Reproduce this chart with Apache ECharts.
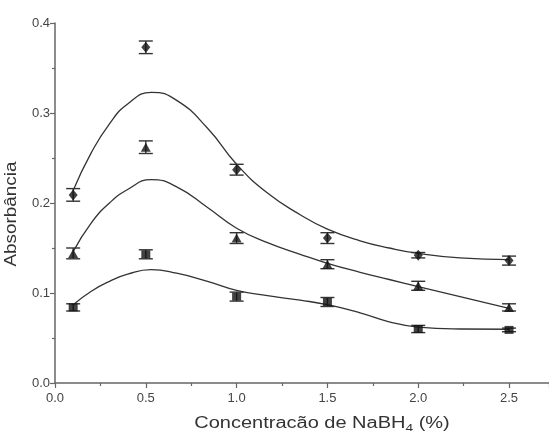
<!DOCTYPE html>
<html>
<head>
<meta charset="utf-8">
<script src="https://cdn.jsdelivr.net/npm/echarts@6/dist/echarts.min.js"></script>
<style>
  html, body { margin: 0; padding: 0; background: #fff; }
  #chart { width: 549px; height: 431px; }
</style>
</head>
<body>
<div id="chart"></div>
<script>
// concentracao de NaBH4 (%)
var conc = [0.1, 0.5, 1.0, 1.5, 2.0, 2.5];

// pontos medidos (losango, triangulo, quadrado) e erro
var diamondVals = [0.209, 0.373, 0.237, 0.161, 0.142, 0.136];
var diamondErr = [0.007, 0.007, 0.006, 0.006, 0.003, 0.005];
var triangleVals = [0.144, 0.262, 0.161, 0.132, 0.108, 0.084];
var triangleErr = [0.006, 0.007, 0.006, 0.005, 0.005, 0.004];
var squareVals = [0.084, 0.143, 0.096, 0.090, 0.060, 0.059];
var squareErr = [0.004, 0.005, 0.005, 0.005, 0.004, 0.002];

// curvas ajustadas
var fitX = [0.1, 0.2, 0.3, 0.4, 0.53, 0.67, 0.84, 1.0, 1.17, 1.35, 1.5, 1.68, 1.84, 2.0, 2.23, 2.5];
var fitTop = [0.214, 0.256, 0.288, 0.310, 0.323, 0.314, 0.283, 0.243, 0.211, 0.187, 0.171, 0.158, 0.150, 0.144, 0.139, 0.137];
var fitMid = [0.146, 0.178, 0.200, 0.215, 0.226, 0.218, 0.195, 0.172, 0.156, 0.143, 0.133, 0.123, 0.115, 0.107, 0.096, 0.083];
var fitLow = [0.087, 0.102, 0.113, 0.121, 0.126, 0.122, 0.113, 0.103, 0.097, 0.092, 0.087, 0.078, 0.068, 0.062, 0.060, 0.0597];

var yTicks = ['0.0', '0.1', '0.2', '0.3', '0.4'];

var chart = echarts.init(document.getElementById('chart'));

function pairs(xs, ys) {
    return xs.map(function (x, i) { return [x, ys[i]]; });
}

function errData(vals, errs) {
    return conc.map(function (x, i) { return [x, vals[i] - errs[i], vals[i] + errs[i]]; });
}

function renderErr(params, api) {
    var top = api.coord([api.value(0), api.value(2)]);
    var bot = api.coord([api.value(0), api.value(1)]);
    var w = 7;
    var st = { stroke: '#333', lineWidth: 1.4 };
    return {
        type: 'group',
        children: [
            { type: 'line', shape: { x1: top[0], y1: top[1], x2: bot[0], y2: bot[1] }, style: st },
            { type: 'line', shape: { x1: top[0] - w, y1: top[1], x2: top[0] + w, y2: top[1] }, style: st },
            { type: 'line', shape: { x1: bot[0] - w, y1: bot[1], x2: bot[0] + w, y2: bot[1] }, style: st }
        ]
    };
}

function fitSeries(data) {
    return {
        type: 'line',
        data: data,
        smooth: 0.5,
        showSymbol: false,
        lineStyle: { color: '#333', width: 1.3 },
        z: 2,
        silent: true
    };
}

function errSeries(data) {
    return { type: 'custom', renderItem: renderErr, data: data, z: 3, silent: true };
}

function markSeries(data, symbol, size) {
    return {
        type: 'scatter',
        data: data,
        symbol: symbol,
        symbolSize: size,
        itemStyle: { color: '#111' },
        z: 4,
        silent: true
    };
}

var axisColor = '#666';
var labelStyle = { color: '#444', fontSize: 13, fontFamily: 'Liberation Sans' };

var option = {
    animation: false,
    grid: { left: 55, right: 0, top: 23, bottom: 48 },
    xAxis: {
        type: 'value',
        min: 0,
        max: 2.72,
        interval: 0.5,
        axisLine: { lineStyle: { color: axisColor, width: 1.5 } },
        axisTick: { length: 5, lineStyle: { color: axisColor, width: 1.2 } },
        minorTick: { show: true, splitNumber: 2, length: 3, lineStyle: { color: axisColor, width: 1.2 } },
        splitLine: { show: false },
        axisLabel: Object.assign({ margin: 9, showMaxLabel: false, formatter: function (v) { return v.toFixed(1); } }, labelStyle)
    },
    yAxis: {
        type: 'value',
        min: 0,
        max: 0.4,
        interval: 0.1,
        axisLine: { show: true, lineStyle: { color: axisColor, width: 1.5 } },
        axisTick: { show: true, length: 5, lineStyle: { color: axisColor, width: 1.2 } },
        minorTick: { show: true, splitNumber: 2, length: 3, lineStyle: { color: axisColor, width: 1.2 } },
        splitLine: { show: false },
        axisLabel: Object.assign({ margin: 5, formatter: function (v) { return yTicks[Math.round(v * 10)]; } }, labelStyle)
    },
    graphic: [
        {
            type: 'text',
            x: 12, y: 214,
            rotation: Math.PI / 2,
            scaleX: 1.18,
            style: {
                text: 'Absorbância',
                fill: '#333',
                font: '16px "Liberation Sans"',
                textAlign: 'center',
                textVerticalAlign: 'middle'
            }
        },
        {
            type: 'text',
            x: 322, y: 413,
            scaleX: 1.25,
            style: {
                text: '{a|Concentracão de NaBH}{s|4}{a| (%)}',
                rich: {
                    a: { fontSize: 16, fontFamily: 'Liberation Sans', fill: '#333', color: '#333' },
                    s: { fontSize: 11, fontFamily: 'Liberation Sans', fill: '#333', color: '#333', verticalAlign: 'bottom', padding: [10, 0, 0, 0] }
                },
                textAlign: 'center',
                textVerticalAlign: 'top'
            }
        }
    ],
    series: [
        fitSeries(pairs(fitX, fitTop)),
        fitSeries(pairs(fitX, fitMid)),
        fitSeries(pairs(fitX, fitLow)),
        errSeries(errData(diamondVals, diamondErr)),
        errSeries(errData(triangleVals, triangleErr)),
        errSeries(errData(squareVals, squareErr)),
        markSeries(pairs(conc, diamondVals), 'diamond', [9, 11]),
        markSeries(pairs(conc, triangleVals), 'triangle', [10, 9]),
        markSeries(pairs(conc, squareVals), 'rect', [9, 8])
    ]
};

chart.setOption(option);
</script>
</body>
</html>
